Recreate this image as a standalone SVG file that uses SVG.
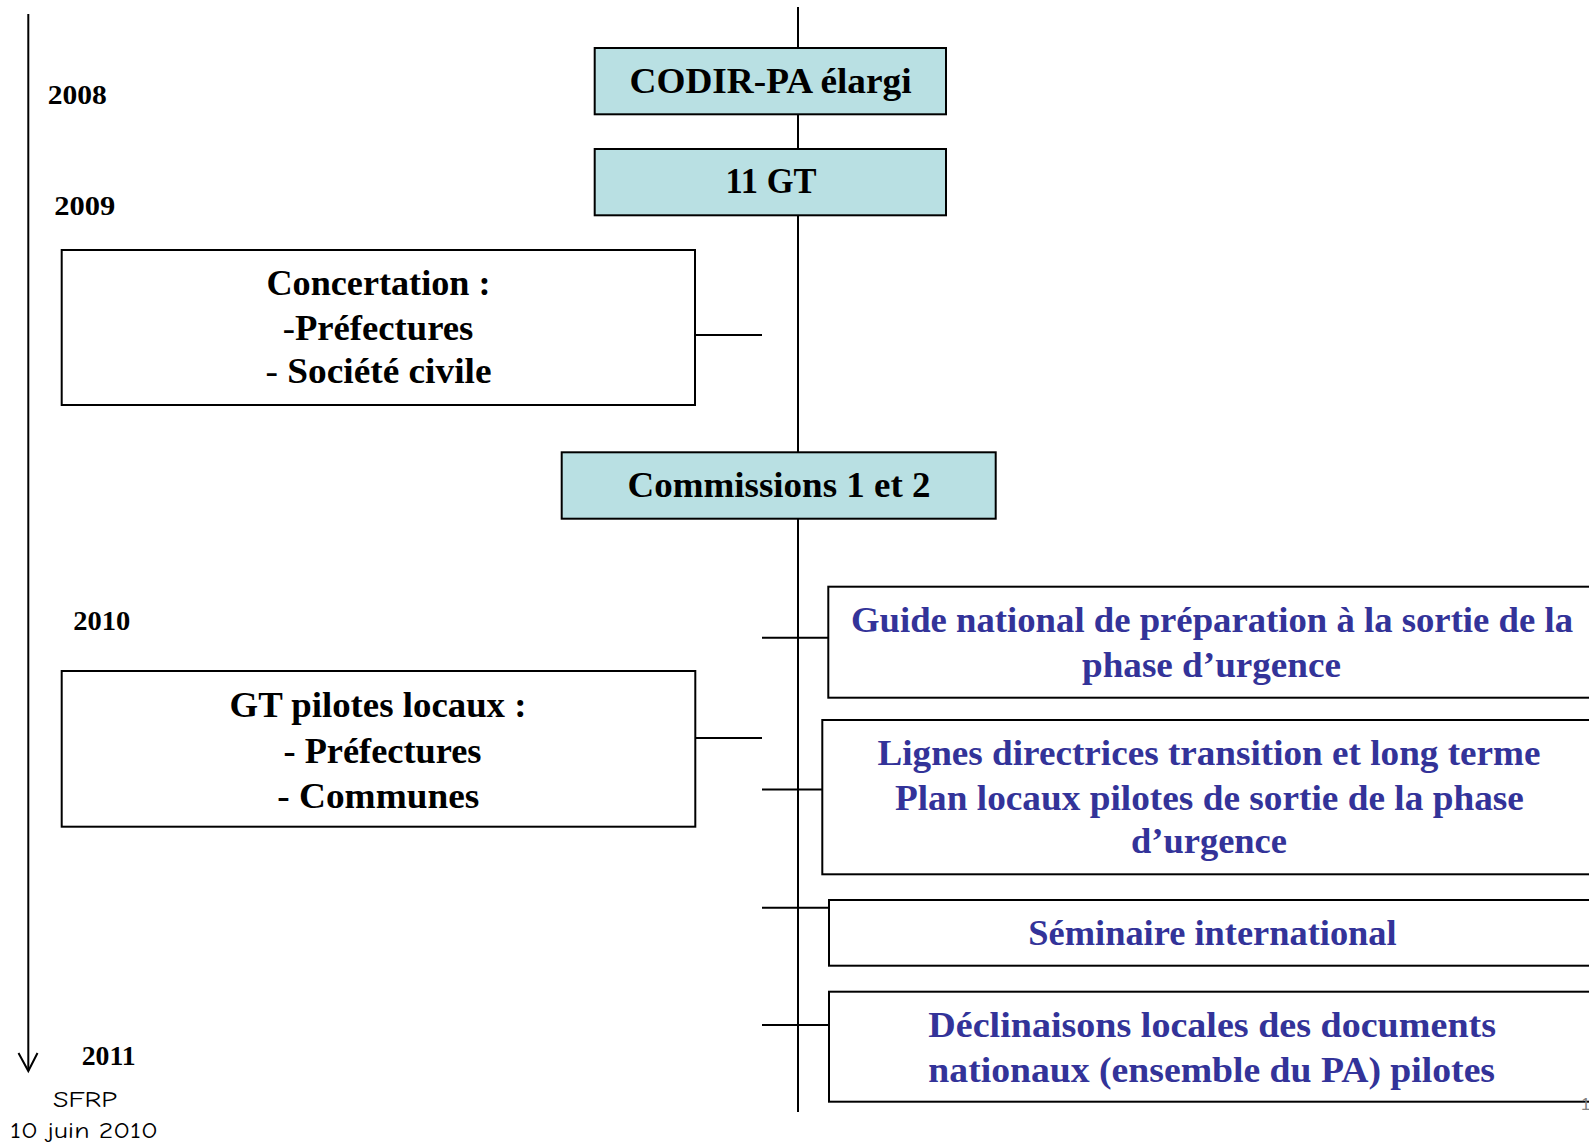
<svg xmlns="http://www.w3.org/2000/svg" width="1589" height="1144" viewBox="0 0 1589 1144">
<style>
.box{fill:#ffffff;stroke:#000000;stroke-width:2}
.tbox{fill:#B9E0E3;stroke:#000000;stroke-width:2}
.ln{stroke:#000000;stroke-width:2;fill:none}
.t{font-family:"Liberation Serif","Times New Roman",serif;font-weight:bold;font-size:35px;fill:#000000;text-anchor:middle}
.b{font-family:"Liberation Serif","Times New Roman",serif;font-weight:bold;font-size:35px;fill:#333399;text-anchor:middle}
.y{font-family:"Liberation Serif","Times New Roman",serif;font-weight:bold;font-size:28px;fill:#000000}
.c{font-family:"Comic Neue","DejaVu Sans",sans-serif;font-size:23px;fill:#000000;text-anchor:middle}
</style>
<defs>
<marker id="open" viewBox="0 0 20 20" refX="10" refY="18" markerWidth="20" markerHeight="20" markerUnits="userSpaceOnUse" orient="auto-start-reverse">
<path d="M1,1 L10,18 L19,1" fill="none" stroke="#000" stroke-width="1.6"/>
</marker>
</defs>
<rect width="1589" height="1144" fill="#ffffff"/>

<g id="connectors">
<line class="ln" x1="28.3" y1="14" x2="28.3" y2="1071" stroke-width="2"/>
<path d="M18.5,1053 L28.3,1071 L37.5,1053" class="ln" stroke-width="1.8"/>
<line class="ln" x1="798" y1="7" x2="798" y2="1112"/>
<line class="ln" x1="695" y1="335" x2="762" y2="335"/>
<line class="ln" x1="695" y1="738" x2="762" y2="738"/>
<line class="ln" x1="762" y1="637.7" x2="829" y2="637.7"/>
<line class="ln" x1="762" y1="789.5" x2="822" y2="789.5"/>
<line class="ln" x1="762" y1="907.7" x2="829" y2="907.7"/>
<line class="ln" x1="762" y1="1025" x2="829" y2="1025"/>
</g>

<g id="years">
<text class="y" x="47.7" y="104" textLength="59" lengthAdjust="spacingAndGlyphs">2008</text>
<text class="y" x="54.3" y="215" textLength="61" lengthAdjust="spacingAndGlyphs">2009</text>
<text class="y" x="73.3" y="630" textLength="57" lengthAdjust="spacingAndGlyphs">2010</text>
<text class="y" x="81.7" y="1065" textLength="54" lengthAdjust="spacingAndGlyphs">2011</text>
</g>

<g id="node-codir">
<rect class="tbox" x="594.7" y="48" width="351.3" height="66.3"/>
<text class="t" x="770.5" y="92.7" textLength="282" lengthAdjust="spacingAndGlyphs">CODIR-PA élargi</text>
</g>

<g id="node-11gt">
<rect class="tbox" x="594.7" y="149" width="351.3" height="66.3"/>
<text class="t" x="771" y="193" textLength="91" lengthAdjust="spacingAndGlyphs">11 GT</text>
</g>

<g id="node-concertation">
<rect class="box" x="61.7" y="250" width="633.3" height="155"/>
<text class="t" x="378.5" y="295" textLength="224" lengthAdjust="spacingAndGlyphs">Concertation :</text>
<text class="t" x="378" y="340" textLength="190.6" lengthAdjust="spacingAndGlyphs"><tspan font-weight="normal">-</tspan>Préfectures</text>
<text class="t" x="378.5" y="383.3" textLength="226" lengthAdjust="spacingAndGlyphs"><tspan font-weight="normal">- </tspan>Société civile</text>
</g>

<g id="node-commissions">
<rect class="tbox" x="561.7" y="452.3" width="434" height="66.4"/>
<text class="t" x="779" y="496.7" textLength="303" lengthAdjust="spacingAndGlyphs">Commissions 1 et 2</text>
</g>

<g id="node-gtpilotes">
<rect class="box" x="61.7" y="671" width="633.6" height="155.7"/>
<text class="t" x="378" y="716.7" textLength="297" lengthAdjust="spacingAndGlyphs">GT pilotes locaux :</text>
<text class="t" x="382.5" y="763.3" textLength="198" lengthAdjust="spacingAndGlyphs">- Préfectures</text>
<text class="t" x="378.3" y="808.3" textLength="202" lengthAdjust="spacingAndGlyphs">- Communes</text>
</g>

<g id="node-guide">
<rect class="box" x="828.3" y="586.7" width="770" height="111"/>
<text class="b" x="1212" y="631.7" textLength="722" lengthAdjust="spacingAndGlyphs">Guide national de préparation à la sortie de la</text>
<text class="b" x="1211.5" y="676.7" textLength="259" lengthAdjust="spacingAndGlyphs">phase d’urgence</text>
</g>

<g id="node-lignes">
<rect class="box" x="822.3" y="720" width="776" height="154.3"/>
<text class="b" x="1209" y="765" textLength="663" lengthAdjust="spacingAndGlyphs">Lignes directrices transition et long terme</text>
<text class="b" x="1209.4" y="810" textLength="629" lengthAdjust="spacingAndGlyphs">Plan locaux pilotes de sortie de la phase</text>
<text class="b" x="1209" y="853" textLength="156" lengthAdjust="spacingAndGlyphs">d’urgence</text>
</g>

<g id="node-seminaire">
<rect class="box" x="829" y="900" width="770" height="65.7"/>
<text class="b" x="1212.5" y="945" textLength="368.4" lengthAdjust="spacingAndGlyphs">Séminaire international</text>
</g>

<g id="node-declinaisons">
<rect class="box" x="829" y="991.7" width="770" height="110"/>
<text class="b" x="1212.2" y="1036.7" textLength="567.7" lengthAdjust="spacingAndGlyphs">Déclinaisons locales des documents</text>
<text class="b" x="1211.7" y="1081.7" textLength="566.7" lengthAdjust="spacingAndGlyphs">nationaux (ensemble du PA) pilotes</text>
</g>

<g id="footer">
<text class="c" x="85" y="1106.7" textLength="64" lengthAdjust="spacingAndGlyphs">SFRP</text>
<text class="c" x="84" y="1138" textLength="148" lengthAdjust="spacingAndGlyphs">10 juin 2010</text>
<text x="1581" y="1110" font-family="Liberation Sans, Arial, sans-serif" font-size="17" fill="#808080">1</text>
</g>
</svg>
